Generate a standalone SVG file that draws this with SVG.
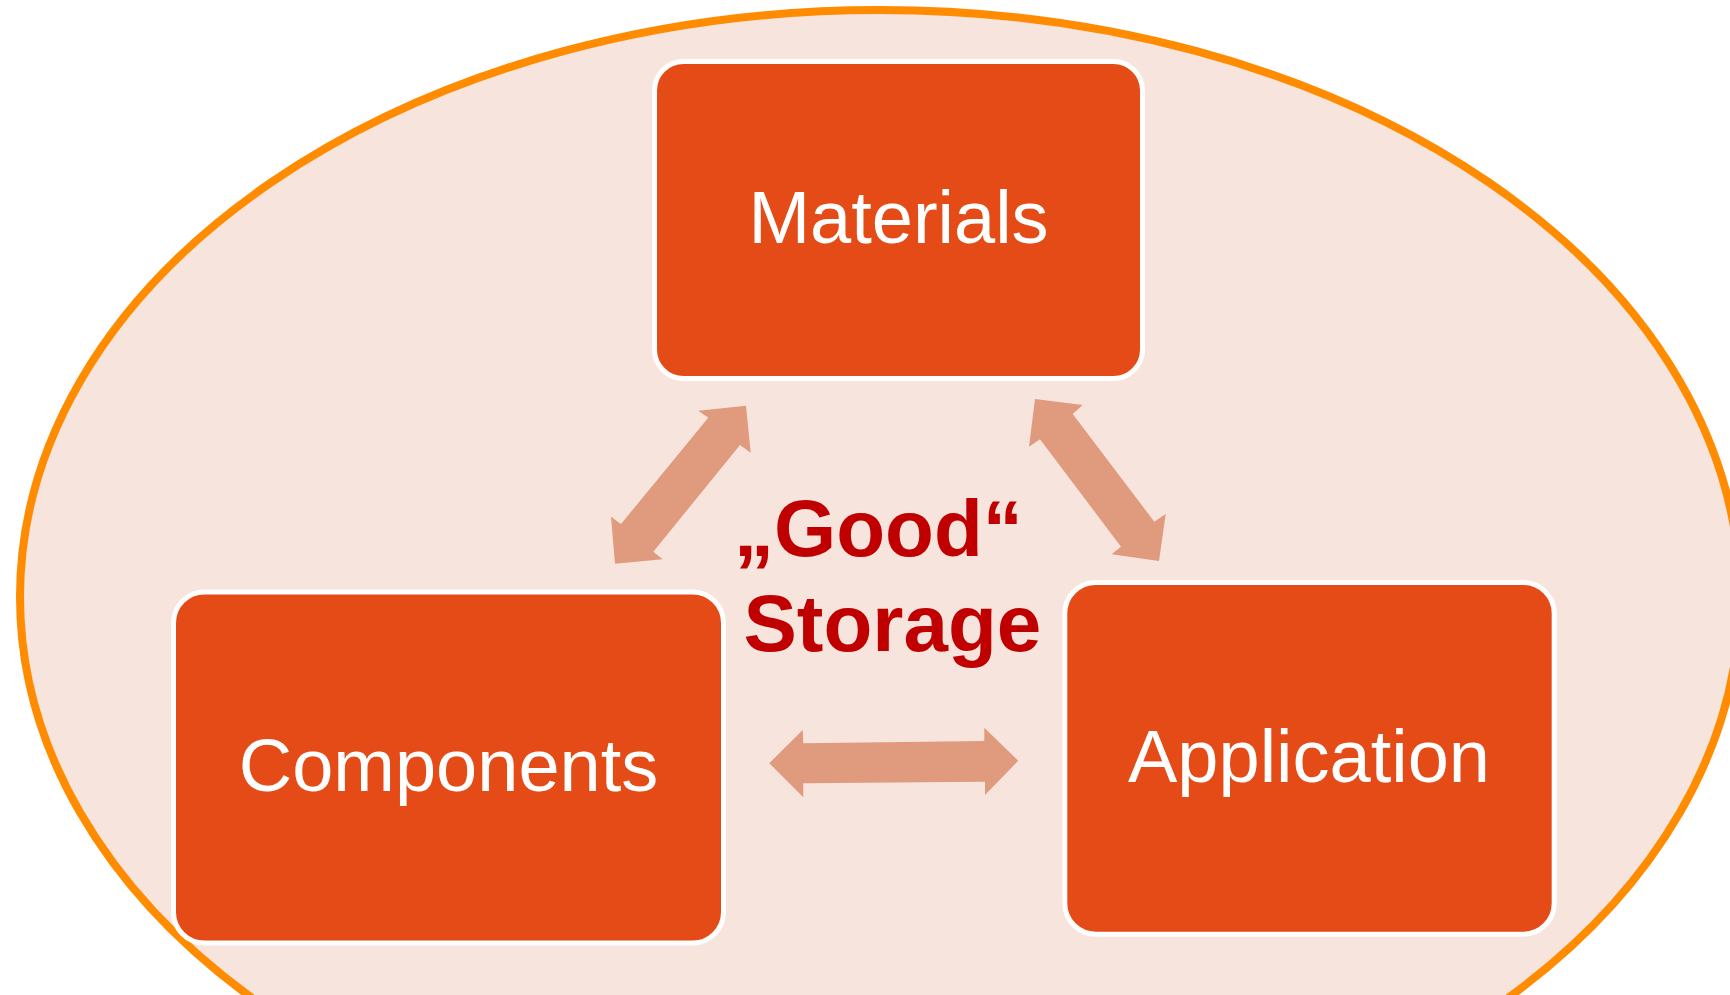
<svg xmlns="http://www.w3.org/2000/svg" width="1730" height="995" viewBox="0 0 1730 995">
  <style>
    .box { fill: #E54B16; stroke: #FFFFFF; stroke-width: 5; }
    .lbl { font-family: "Liberation Sans", Arial, sans-serif; font-size: 74px; fill: #FFFFFF; text-anchor: middle; }
    .arrow { fill: #E09A7D; }
    .title { font-family: "Liberation Sans", Arial, sans-serif; font-size: 80px; font-weight: bold; fill: #C00000; }
  </style>
  <rect x="0" y="0" width="1730" height="995" fill="#FFFFFF"/>
  <g id="background">
    <ellipse cx="880" cy="597" rx="860" ry="587" fill="#F7E4DD" stroke="#FF8C00" stroke-width="8"/>
  </g>
  <g id="connectors">
    <polygon class="arrow" points="746,405.7 750.7,452.7 740,445 653.3,551.7 662.7,559.3 615,563.7 611,516.7 621,524 708.3,417.7 698.3,410.7"/>
    <polygon class="arrow" points="1035,399 1082.7,405 1072.7,414 1154.3,521.7 1165.7,514 1159,561 1111.7,554.3 1121,546.7 1040,439.3 1029,446.7"/>
    <polygon class="arrow" points="769.3,763.3 802.7,730 803.3,743.3 984.3,741 984.3,727.7 1018.3,760.7 985,795 985,781.7 803.3,783.3 803.3,797.3"/>
  </g>
  <g id="materials">
    <rect class="box" x="654.5" y="61.5" width="488" height="317" rx="29" ry="29"/>
    <text class="lbl" x="898.5" y="243">Materials</text>
  </g>
  <g id="components">
    <rect class="box" x="173.5" y="592" width="550" height="351" rx="31" ry="31"/>
    <text class="lbl" x="448.5" y="790.5">Components</text>
  </g>
  <g id="application">
    <rect class="box" x="1064.8" y="582.5" width="489.4" height="351.7" rx="31" ry="31"/>
    <text class="lbl" x="1309" y="781.5">Application</text>
  </g>
  <g id="good-storage">
    <text class="title" x="734" y="555.5">„Good“</text>
    <text class="title" x="743.5" y="651">Storage</text>
  </g>
</svg>
